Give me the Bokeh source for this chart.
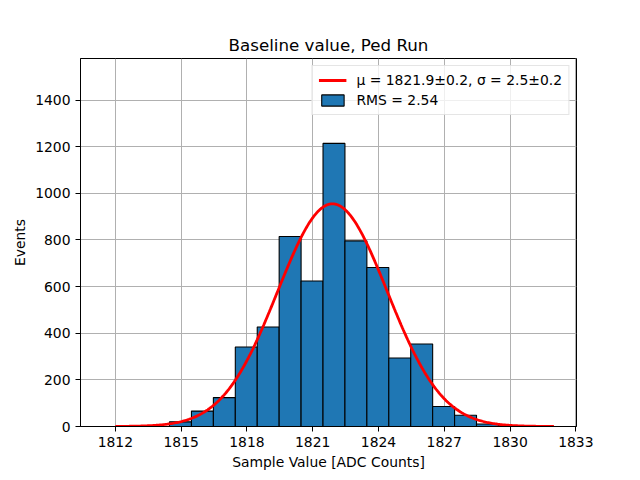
import numpy as np
from bokeh.plotting import figure
from bokeh.models import Range1d, FixedTicker, Legend, LegendItem
from bokeh.embed import file_html
from bokeh.resources import INLINE

# Histogram data
bin_centers = [1814.97, 1815.97, 1816.97, 1817.97, 1818.97, 1819.97, 1820.97,
               1821.97, 1822.97, 1823.97, 1824.97, 1825.97, 1826.97, 1827.97,
               1828.97, 1829.97]
counts = [20, 66, 124, 341, 427, 815, 624, 1214, 796, 682, 294, 354, 86, 48, 11, 3]
bin_width = 1.0

# Gaussian fit parameters (from the legend)
fit_mu = 1821.9
fit_sigma = 2.5
fit_amp = 955.0
fit_x_min, fit_x_max = 1812.0, 1832.0

x_ticks = [1812, 1815, 1818, 1821, 1824, 1827, 1830, 1833]
y_ticks = [0, 200, 400, 600, 800, 1000, 1200, 1400]

title_text = "Baseline value, Ped Run"
x_label = "Sample Value [ADC Counts]"
y_label = "Events"
fit_label = "μ = 1821.9±0.2, σ = 2.5±0.2"
rms_label = "RMS = 2.54"

FONT = "DejaVu Sans"

p = figure(width=632, height=472, output_backend="svg", toolbar_location=None,
           x_range=Range1d(1810.41, 1833.03), y_range=Range1d(0, 1.3 * max(counts)),
           min_border_left=80, min_border_right=56, min_border_top=58,
           min_border_bottom=45)

p.title.text = title_text
p.title.align = "center"
p.title.text_font = FONT
p.title.text_font_size = "16.7px"
p.title.text_font_style = "normal"
p.title.text_color = "black"
p.title.standoff = 7

bars = p.vbar(x=bin_centers, top=counts, width=bin_width, bottom=0,
              fill_color="#1f77b4", line_color="black", line_width=1.1)

fx = np.linspace(fit_x_min, fit_x_max, 400)
fy = fit_amp * np.exp(-0.5 * ((fx - fit_mu) / fit_sigma) ** 2)
curve = p.line(fx, fy, line_color="red", line_width=2.8)

for ax in (p.xaxis, p.yaxis):
    ax.axis_line_color = "black"
    ax.major_tick_line_color = "black"
    ax.major_tick_out = 5
    ax.major_tick_in = 0
    ax.minor_tick_line_color = None
    ax.major_label_text_font = FONT
    ax.major_label_text_font_size = "13.9px"
    ax.major_label_text_color = "black"
    ax.axis_label_text_font = FONT
    ax.axis_label_text_font_size = "13.9px"
    ax.axis_label_text_font_style = "normal"
    ax.axis_label_text_color = "black"

p.xaxis.ticker = FixedTicker(ticks=x_ticks)
p.yaxis.ticker = FixedTicker(ticks=y_ticks)
p.xaxis.axis_label = x_label
p.yaxis.axis_label = y_label
p.xaxis.axis_label_standoff = 4
p.yaxis.axis_label_standoff = 4

p.xgrid.grid_line_color = "#b0b0b0"
p.ygrid.grid_line_color = "#b0b0b0"
p.xgrid.grid_line_width = 1.0
p.ygrid.grid_line_width = 1.0
p.xgrid.ticker = FixedTicker(ticks=x_ticks)
p.ygrid.ticker = FixedTicker(ticks=y_ticks)

p.outline_line_color = "black"
p.outline_line_width = 1.0

legend = Legend(items=[LegendItem(label=fit_label, renderers=[curve]),
                       LegendItem(label=rms_label, renderers=[bars])],
                location="top_right")
legend.label_text_font = FONT
legend.label_text_font_size = "13.9px"
legend.label_text_color = "black"
legend.border_line_color = "#cccccc"
legend.background_fill_alpha = 0.8
legend.margin = 7
legend.padding = 6
legend.spacing = 4
legend.glyph_width = 28
legend.glyph_height = 14
legend.label_standoff = 10
p.add_layout(legend)

open("out.html", "w").write(file_html(p, INLINE))
